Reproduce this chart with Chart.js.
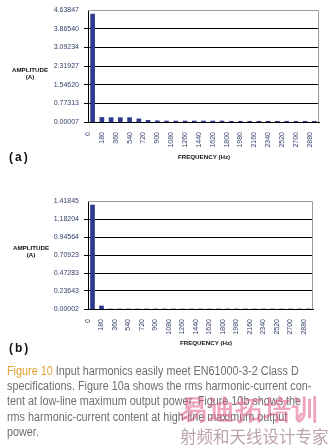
<!DOCTYPE html>
<html>
<head>
<meta charset="utf-8">
<script src="https://cdn.jsdelivr.net/npm/chart.js@4.4.1/dist/chart.umd.min.js"></script>
<style>
  body { margin: 0; width: 333px; height: 448px; background: #fff; position: relative; overflow: hidden;
         font-family: "Liberation Sans", Arial, sans-serif; }
  canvas { position: absolute; left: 0; }
  .axt { position: absolute; font-size: 6.2px; font-weight: bold; color: #111; text-align: center; line-height: 7px; }
  .tag { position: absolute; left: 9px; font-size: 12px; font-weight: bold; color: #111; letter-spacing: 2px; }
  .cap { position: absolute; left: 7px; font-size: 12.3px; color: #6e6e6e; white-space: nowrap;
         transform: scaleX(0.88); transform-origin: 0 0; }
  .cap b { font-weight: normal; color: #e3a12c; }
  .logo { position: absolute; left: 180px; top: 392px; font-size: 27px; font-weight: bold; color: rgba(226,90,140,0.55); letter-spacing: 1px; }
  .slogan { position: absolute; left: 180px; top: 424px; font-size: 16.5px; color: rgba(170,140,150,0.8); font-family: "Noto Sans CJK SC"; }
</style>
</head>
<body>
<canvas id="chartA" width="333" height="160" style="top:0"></canvas>
<canvas id="chartB" width="333" height="150" style="top:191px"></canvas>

<div class="axt" style="left:10px;top:66px;width:40px">AMPLITUDE<br>(A)</div>
<div class="axt" style="left:168px;top:153px;width:72px">FREQUENCY (Hz)</div>
<div class="tag" style="top:150px">(a)</div>

<div class="axt" style="left:11px;top:244px;width:40px">AMPLITUDE<br>(A)</div>
<div class="axt" style="left:170px;top:339px;width:72px">FREQUENCY (Hz)</div>
<div class="tag" style="top:341px">(b)</div>

<div class="cap" style="top:364px"><b>Figure 10</b> Input harmonics easily meet EN61000-3-2 Class D</div>
<div class="cap" style="top:379px">specifications. Figure 10a shows the rms harmonic-current con-</div>
<div class="cap" style="top:394px">tent at low-line maximum output power. Figure 10b shows the</div>
<div class="cap" style="top:410px">rms harmonic-current content at high-line maximum output</div>
<div class="cap" style="top:425px">power.</div>
<div class="logo">易迪拓培训</div>
<div class="slogan">射频和天线设计专家</div>

<script>
// harmonic frequencies (Hz), odd harmonics of 60 Hz
const harmonicHz = [60, 180, 300, 420, 540, 660, 780, 900, 1020, 1140, 1260, 1380, 1500,
                    1620, 1740, 1860, 1980, 2100, 2220, 2340, 2460, 2580, 2700, 2820, 2940];

// (a) low-line amplitudes (A)
const ampLow = [4.47, 0.19, 0.18, 0.18, 0.18, 0.13, 0.07, 0.05, 0.04, 0.04, 0.04, 0.04, 0.04,
                0.04, 0.04, 0.03, 0.03, 0.03, 0.03, 0.03, 0.03, 0.03, 0.03, 0.03, 0.03];

// (b) high-line amplitudes (A)
const ampHigh = [1.366, 0.04, 0, 0, 0, 0, 0, 0, 0, 0, 0, 0, 0,
                 0, 0, 0, 0, 0, 0, 0, 0, 0, 0, 0, 0];

const yTicksA = [0.00007, 0.77313, 1.54620, 2.31927, 3.09234, 3.86540, 4.63847];
const yTicksB = [0.00002, 0.23643, 0.47283, 0.70923, 0.94564, 1.18204, 1.41845];

const freqMax = 3000;
const freqStep = 180;

const barColor = '#2f3a8e';
const tickColor = '#35406e';

// grey top/right frame of the plot area
const framePlugin = {
    id: 'frame',
    afterDatasetsDraw(chart) {
        const a = chart.chartArea, ctx = chart.ctx;
        ctx.save();
        ctx.strokeStyle = '#9a9a9a';
        ctx.lineWidth = 1;
        ctx.beginPath();
        ctx.moveTo(a.left, a.top + 0.5);
        ctx.lineTo(a.right - 0.5, a.top + 0.5);
        ctx.lineTo(a.right - 0.5, a.bottom);
        ctx.stroke();
        ctx.restore();
    }
};

function makeChart(id, values, yTicks, pad) {
    const pts = harmonicHz.map(function (f, i) { return { x: f, y: values[i] }; });
    return new Chart(document.getElementById(id), {
        type: 'bar',
        data: {
            datasets: [{ data: pts, backgroundColor: barColor, barThickness: 4, borderWidth: 0 }]
        },
        options: {
            responsive: false, animation: false,
            layout: { padding: pad },
            plugins: { legend: { display: false }, tooltip: { enabled: false } },
            scales: {
                x: {
                    type: 'linear', min: 0, max: freqMax, offset: false,
                    afterFit: function (s) { s.height = pad.xh; },
                    ticks: {
                        stepSize: freqStep, includeBounds: false, autoSkip: false,
                        minRotation: 90, maxRotation: 90, padding: 2,
                        color: tickColor, font: { size: 7, family: 'Liberation Sans' },
                        callback: function (v) { return String(v); }
                    },
                    grid: { display: false },
                    border: { color: '#000', width: 1 }
                },
                y: {
                    min: yTicks[0], max: yTicks[yTicks.length - 1],
                    afterFit: function (s) { s.width = pad.yw; },
                    afterBuildTicks: function (s) { s.ticks = yTicks.map(function (v) { return { value: v }; }); },
                    ticks: {
                        padding: 5, color: tickColor, font: { size: 7, family: 'Liberation Sans' },
                        callback: function (v) { return v.toFixed(5); }
                    },
                    grid: {
                        tickLength: 4,
                        color: function (c) { return c.index === yTicks.length - 1 ? 'rgba(0,0,0,0)' : '#000'; }
                    },
                    border: { color: '#000', width: 1 }
                }
            }
        },
        plugins: [framePlugin]
    });
}

makeChart('chartA', ampLow, yTicksA, { left: 0, right: 14, top: 10, bottom: 0, yw: 88, xh: 38 });
makeChart('chartB', ampHigh, yTicksB, { left: 0, right: 20, top: 10, bottom: 0, yw: 88, xh: 32 });
</script>
</body>
</html>
